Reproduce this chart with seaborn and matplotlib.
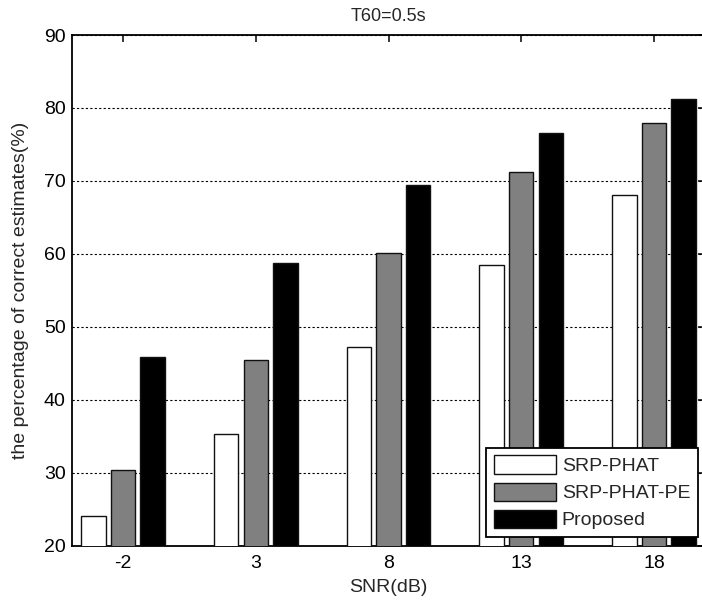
import numpy as np
import pandas as pd
import matplotlib
matplotlib.use("Agg")
from matplotlib import pyplot as plt
import seaborn as sns

# values
snr = ["-2", "3", "8", "13", "18"]
srp_phat = [24.0, 35.3, 47.2, 58.5, 68.0]
srp_phat_pe = [30.3, 45.4, 60.1, 71.2, 77.9]
proposed = [45.8, 58.7, 69.4, 76.5, 81.2]
methods = ["SRP-PHAT", "SRP-PHAT-PE", "Proposed"]

df = pd.DataFrame({
    "SNR": snr * 3,
    "method": [methods[0]] * 5 + [methods[1]] * 5 + [methods[2]] * 5,
    "value": srp_phat + srp_phat_pe + proposed,
})

sns.set_style("white")
plt.rcParams['font.family'] = ['Liberation Sans', 'DejaVu Sans']
plt.rcParams['font.size'] = 14

fig = plt.figure(figsize=(7.02, 6.03), dpi=100)
ax = fig.add_axes([72 / 702, 57.5 / 603, 633 / 702, 510.5 / 603])

palette = {"SRP-PHAT": "#ffffff", "SRP-PHAT-PE": "#808080", "Proposed": "#000000"}
sns.barplot(data=df, x="SNR", y="value", hue="method", order=snr, hue_order=methods,
            palette=palette, width=0.669, gap=0.175, edgecolor="#111111", linewidth=1.0,
            saturation=1, errorbar=None, ax=ax, zorder=3)

ax.set_ylim(20, 90)
ax.set_xlim(-0.385, 4.385)
ax.set_yticks(range(20, 91, 10))
ax.yaxis.grid(True, color="black", linestyle=(0, (2, 2)), linewidth=0.8)
ax.set_axisbelow(True)
for s in ax.spines.values():
    s.set_linewidth(1.3)
    s.set_color("black")
    s.set_visible(True)
ax.tick_params(direction="in", length=5, width=1.1, top=True, right=True,
               labelsize=14, colors="black", pad=4.5)
ax.tick_params(axis="x", pad=7)

ax.set_title("T60=0.5s", fontsize=13, pad=10)
ax.set_xlabel("SNR(dB)", fontsize=14, labelpad=5)
ax.set_ylabel("the percentage of correct estimates(%)", fontsize=14, labelpad=11)

leg = ax.legend(loc="lower right", bbox_to_anchor=(698 / 702, 66 / 603),
                bbox_transform=fig.transFigure, borderaxespad=0,
                fancybox=False, framealpha=1, edgecolor="black",
                handlelength=3.2, handleheight=1.05, labelspacing=0.38,
                handletextpad=0.3, borderpad=0.4, fontsize=14, title=None)
leg.get_frame().set_linewidth(1.3)
leg.set_zorder(5)

fig.savefig("out.png", dpi=100)
